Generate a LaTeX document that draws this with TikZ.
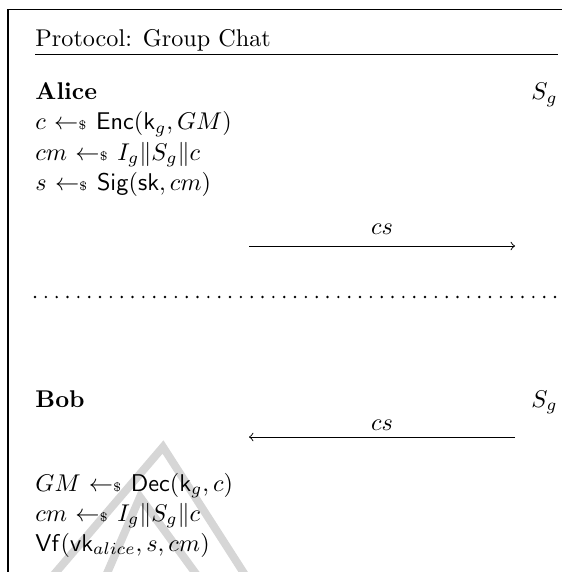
\documentclass[tikz,border=0pt]{standalone}
\usepackage{amsmath}
% sampling arrow: left arrow with a small dollar sign at its tail
\newcommand{\smpl}{\mathrel{\hskip0.6pt{\gets}\mbox{\tiny\$}\hskip1.2pt}}
\begin{document}
% one unit = 1/2.42 pt, y axis pointing down
\begin{tikzpicture}[x=0.41322pt,y=-0.41322pt,
  txt/.style={inner sep=0pt, anchor=base west},
  rtxt/.style={inner sep=0pt, anchor=base east},
  lbl/.style={inner sep=0pt, anchor=base},
  msg/.style={->, line width=0.4pt},
  frameline/.style={line width=0.45pt},
  wm/.style={draw=black!16, line width=3.3pt, line join=miter}]
\useasboundingbox (0,0) rectangle (562,572);

% faint background mark
\begin{scope}
  \clip (0,0) rectangle (562,572);
  \draw[wm] (51,578) -- (163,447) -- (247,578);
  \draw[wm] (105,578) -- (140,497) -- (199,578);
\end{scope}

% frame and title
\draw[frameline] (8,580) -- (8,9.5) -- (570,9.5);
\node[txt] (title) at (35,47) {Protocol: Group Chat};
\draw[line width=0.4pt] (35,54) -- (558,54);

% Alice's side
\node[txt] (alice) at (35,100) {\textbf{Alice}};
\node[rtxt] (sgA) at (558,100) {$S_g$};
\node[txt] (a1) at (35,130) {$c \smpl \mathsf{Enc}(\mathsf{k}_g, GM)$};
\node[txt] (a2) at (35,160) {$cm \smpl I_g \| S_g \| c$};
\node[txt] (a3) at (35,190) {$s \smpl \mathsf{Sig}(\mathsf{sk}, cm)$};

\coordinate (m1s) at (249,246);
\coordinate (m1e) at (515,246);
\draw[msg] (m1s) -- (m1e);
\node[lbl] (cs1) at (382,234) {$cs$};

% separator
\draw[line width=1.1pt, line cap=round, dash pattern=on 0pt off 4.477pt]
  (35,297) -- (556,297);

% Bob's side
\node[txt] (bob) at (35,407) {\textbf{Bob}};
\node[rtxt] (sgB) at (558,407) {$S_g$};
\node[lbl] (cs2) at (382,430.5) {$cs$};
\coordinate (m2s) at (515,437);
\coordinate (m2e) at (249,437);
\draw[msg] (m2s) -- (m2e);

\node[txt] (b1) at (35,491) {$GM \smpl \mathsf{Dec}(\mathsf{k}_g, c)$};
\node[txt] (b2) at (35,521) {$cm \smpl I_g \| S_g \| c$};
\node[txt] (b3) at (35,551) {$\mathsf{Vf}(\mathsf{vk}_{alice}, s, cm)$};
\end{tikzpicture}
\end{document}
